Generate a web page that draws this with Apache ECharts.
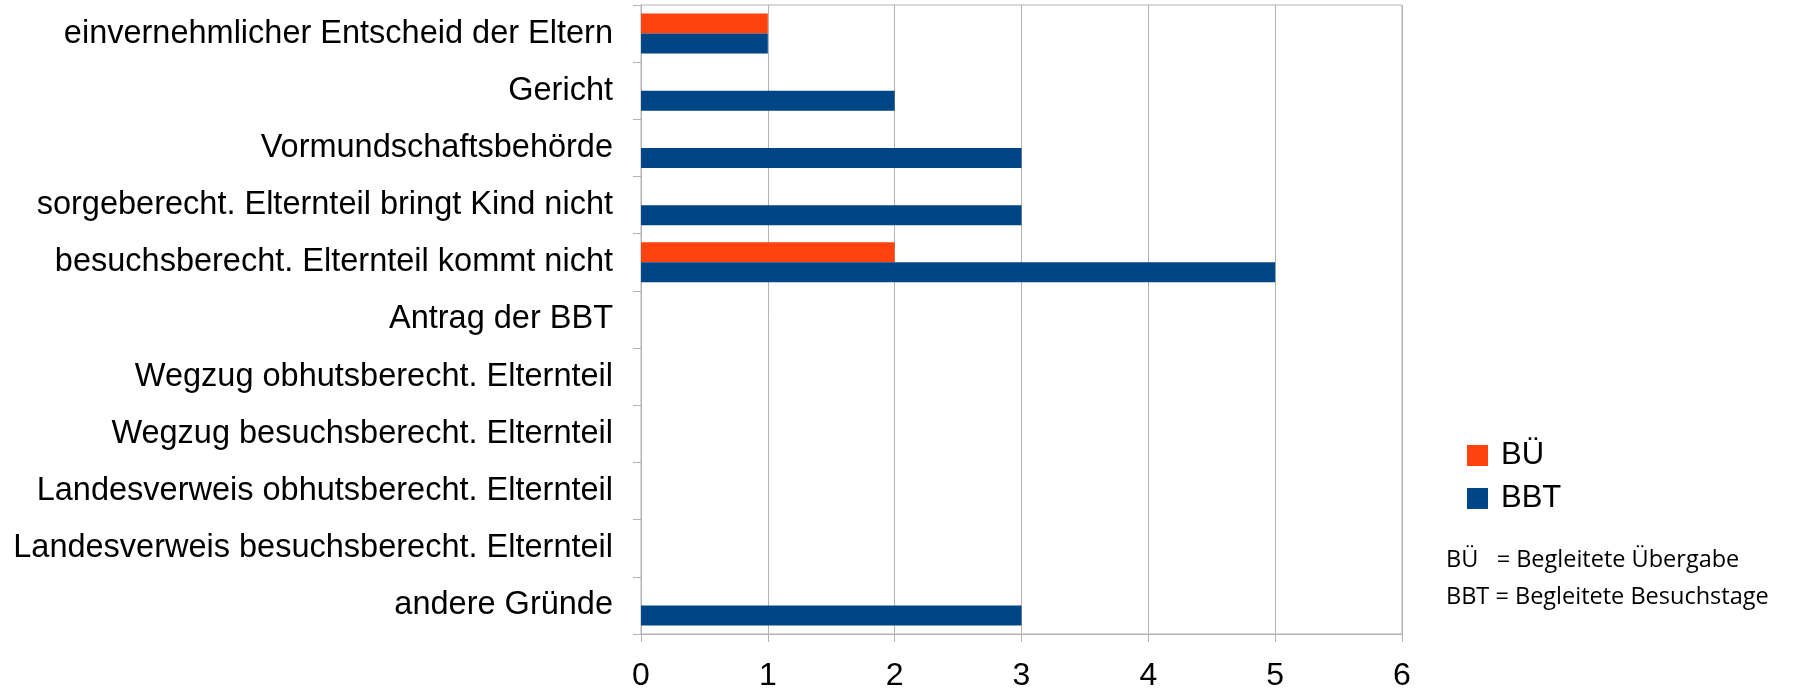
<!DOCTYPE html>
<html><head><meta charset="utf-8">
<script src="https://cdn.jsdelivr.net/npm/echarts@6/dist/echarts.min.js"></script>
<style>html,body{margin:0;padding:0;background:#fff}#c{width:1808px;height:694px}</style>
</head><body><div id="c"></div>
<script>
const categories = ["einvernehmlicher Entscheid der Eltern","Gericht","Vormundschaftsbehörde","sorgeberecht. Elternteil bringt Kind nicht","besuchsberecht. Elternteil kommt nicht","Antrag der BBT","Wegzug obhutsberecht. Elternteil","Wegzug besuchsberecht. Elternteil","Landesverweis obhutsberecht. Elternteil","Landesverweis besuchsberecht. Elternteil","andere Gründe"];
const valuesBU = [1,0,0,0,2,0,0,0,0,0,0];
const valuesBBT = [1,2,3,3,5,0,0,0,0,0,3];
const xTicks = [0,1,2,3,4,5,6];
const noteLines = ["BÜ   = Begleitete Übergabe","BBT = Begleitete Besuchstage"];

const chart = echarts.init(document.getElementById('c'));
chart.setOption({
  animation:false,
  grid:{left:641,right:406,top:5,bottom:60,show:true,borderColor:'#b3b3b3',borderWidth:1},
  legend:{data:['BÜ','BBT'],orient:'vertical',left:1467,top:440,padding:0,itemWidth:21,itemHeight:21,itemGap:12,icon:'rect',
    textStyle:{fontFamily:'Liberation Sans',fontSize:31,color:'#000',padding:[0,0,0,8]}},
  xAxis:{type:'value',min:0,max:6,interval:1,
    axisLine:{show:true,lineStyle:{color:'#b3b3b3'}},
    axisTick:{show:true,length:8,lineStyle:{color:'#b3b3b3'}},
    splitLine:{show:true,lineStyle:{color:'#b3b3b3'}},
    axisLabel:{fontFamily:'Liberation Sans',fontSize:32,color:'#000',margin:26,formatter:v=>xTicks.includes(v)?String(v):''}},
  yAxis:{type:'category',data:categories,inverse:true,
    axisLine:{show:true,lineStyle:{color:'#b3b3b3'}},
    axisTick:{show:true,length:8,lineStyle:{color:'#b3b3b3'}},
    axisLabel:{fontFamily:'Liberation Sans',fontSize:32.5,color:'#000',margin:28}},
  series:[
    {name:'BÜ',type:'bar',data:valuesBU,itemStyle:{color:'#ff420e'},barGap:'0%',barCategoryGap:'30%'},
    {name:'BBT',type:'bar',data:valuesBBT,itemStyle:{color:'#004586'},barGap:'0%',barCategoryGap:'30%'}
  ],
  graphic:noteLines.map((t,i)=>({type:'text',x:1446,y:560+i*37,style:{text:t,fontFamily:'Open Sans',fontSize:23.5,fill:'#000',verticalAlign:'middle'}}))
});
</script></body></html>
